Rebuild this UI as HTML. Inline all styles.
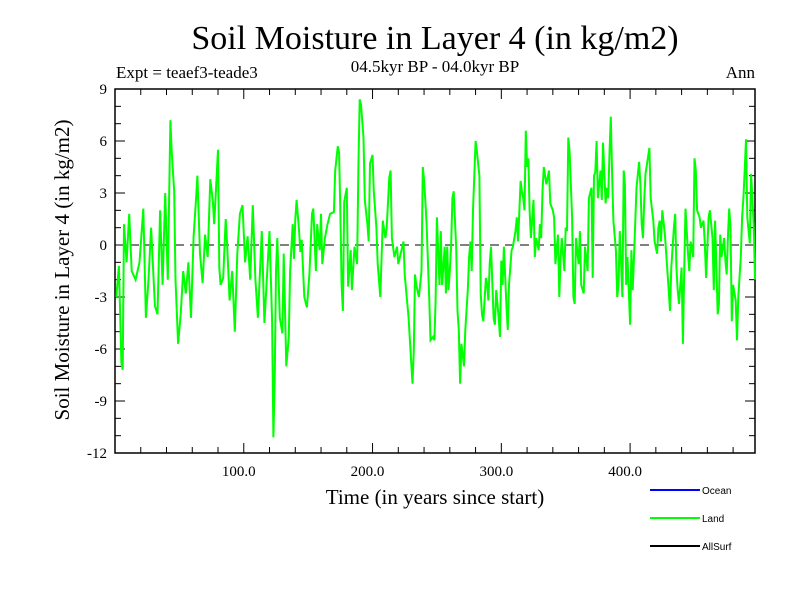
<!DOCTYPE html>
<html><head><meta charset="utf-8"><style>
body{margin:0;background:#fff;}
svg text{font-family:"Liberation Serif",serif;}
</style></head><body>
<svg id="chart" width="800" height="600" xmlns="http://www.w3.org/2000/svg">
<rect width="800" height="600" fill="#fff"/>
<text x="435" y="49" font-size="34" text-anchor="middle">Soil Moisture in Layer 4 (in kg/m2)</text>
<text x="435" y="72" font-size="17" text-anchor="middle">04.5kyr BP - 04.0kyr BP</text>
<text x="116" y="78" font-size="17">Expt = teaef3-teade3</text>
<text x="755" y="78" font-size="17" text-anchor="end">Ann</text>
<text transform="translate(69,270) rotate(-90)" font-size="21" text-anchor="middle">Soil Moisture in Layer 4 (in kg/m2)</text>
<text x="435" y="504" font-size="21" text-anchor="middle">Time (in years since start)</text>
<g id="axes"></g>
<g id="series"></g>
<g>
<line x1="650" y1="490" x2="700" y2="490" stroke="#0000ff" stroke-width="2"/>
<text x="702" y="494" font-size="10" style="font-family:'Liberation Sans',sans-serif">Ocean</text>
<line x1="650" y1="518" x2="700" y2="518" stroke="#00ff00" stroke-width="2"/>
<text x="702" y="522" font-size="10" style="font-family:'Liberation Sans',sans-serif">Land</text>
<line x1="650" y1="546" x2="700" y2="546" stroke="#000" stroke-width="2"/>
<text x="702" y="550" font-size="10" style="font-family:'Liberation Sans',sans-serif">AllSurf</text>
</g>
</svg>
<script>
const years=[1,3,5,6,7,9,11,13,16,19,22,24,26,28,31,33,35,37,39,41,43,44,46,47,49,51,53,55,57,59,61,63,64,66,68,70,72,74,76,77,80,81,82,84,86,87,89,91,93,95,97,99,101,103,105,107,109,111,114,116,118,120,122,123,124,125,126,128,130,131,133,135,136,138,139,140,141,143,144,145,147,149,151,153,154,156,157,159,160,161,163,165,167,170,171,173,174,175,176,177,178,180,181,183,184,186,188,189,190,191,193,194,196,197,198,200,201,203,204,206,208,210,211,213,214,215,217,219,220,224,225,228,229,231,232,233,234,236,238,239,240,241,242,244,245,247,248,249,250,252,253,254,256,257,258,259,260,261,262,263,265,266,267,268,269,271,272,274,275,276,277,278,280,281,283,284,285,286,288,289,290,291,292,294,295,296,298,299,300,301,302,304,305,306,308,309,311,312,313,315,316,317,318,319,320,321,322,323,325,326,327,329,330,331,332,333,335,337,338,340,341,342,344,345,346,347,349,350,351,352,353,355,356,357,358,360,361,362,364,365,367,368,370,371,372,373,374,375,377,378,379,381,382,383,384,385,386,387,389,390,391,392,394,395,396,397,398,400,401,402,403,405,407,408,409,410,411,412,413,415,416,418,419,421,422,423,424,425,427,429,430,431,432,434,435,436,437,438,440,441,442,443,445,446,447,449,450,451,452,454,455,457,458,459,461,462,464,465,466,468,469,470,471,473,474,475,476,477,478,479,480,482,483,484,486,487,488,489,490,491,493,494,496,497];
const values=[-3,-1.2,-6.8,-7.2,1.2,-1,1.8,-1.5,-2,-1,2.1,-4.2,-2,1,-3.5,-4,2,-2.3,3,-2,7.2,5.4,3.1,-2,-5.7,-4,-1.5,-2.8,-1,-4.2,0.5,2.7,4,-0.5,-2.2,0.6,-0.7,3.8,2.5,1.2,5.5,-1.3,-2.3,-1.9,1.5,0.2,-3.2,-1.5,-5,-0.5,1.8,2.3,-1,0.5,-2,2.3,-2,-4.2,0.8,-4.5,-1.8,0.8,-4.4,-11.1,-7.8,-1.5,0.4,-4.2,-5.1,-0.5,-7,-5.3,-1.5,1.2,-0.8,1.5,2.6,0.8,-0.4,0.3,-3,-3.6,-1.7,1.8,2.1,-1.5,1.2,-0.3,1.8,-1.1,0.4,1.2,1.8,1.9,4.3,5.7,5.3,1.8,-2.3,-3.8,2.5,3.3,-2.4,-0.3,-2.6,-0.1,-1.1,4.5,8.4,8.1,6.2,2.6,1.2,0.2,4.7,5.2,3.1,1,-1.1,-3,1.4,0.4,1,3.9,4.3,0.4,-0.7,-0.1,-1.1,0.2,-1.7,-4.2,-5.5,-8,-6.1,-1.7,-2.3,-3,-1.5,4.5,3.7,2.6,1.2,-3,-5.5,-5.3,-5.5,-3.2,1.6,-2.3,0.8,-2.3,-0.1,-2.8,-0.1,-2.6,-1.5,-0.1,2.7,3.1,-0.2,-3.8,-4.9,-8,-5.7,-7,-4.9,-2.6,-0.7,0.2,-1.5,2,6,5.4,4,-2.8,-4,-4.4,-1.9,-2.3,-3.2,-1.1,-0.1,-4.2,-4.6,-2.6,-4.2,-5.3,-0.9,-2.3,-0.1,-3.6,-4.9,-2.3,-0.3,-0.1,0.8,1.6,0.2,3.7,3.1,2.7,2,6.6,4.5,5,2,0.4,2.6,-0.7,0.4,-0.3,1.2,0.4,3.1,4.5,3.5,4.3,2.4,2,1.6,-1.1,0.6,-3,-0.7,0.4,-1.5,1,0.8,6.2,5.4,1.6,-3,-3.4,0.4,-1.1,0.8,-2.3,-2.8,-0.1,-1.5,2.7,3.3,-1.9,4,4.2,6,2.7,4.3,2.6,5.9,2.4,3.3,2.7,5.3,7.4,4.1,1.4,-0.3,-3,-2.3,0.8,-3,4.3,3.5,-2.3,-0.7,-4.6,-0.3,-2.6,-0.7,3.3,4.8,3.5,1.2,0.4,2.7,4.1,4.6,5.6,2.7,1.4,0.2,-0.5,1,1.4,0.2,2,0.6,-1.5,-2.6,-3.8,-1.3,1,1.8,-1.3,-2.6,-3.4,-1.3,-5.7,-1.5,2.1,-0.5,-1.5,0.2,-0.7,5,4.3,2,1.6,1,1.4,0.1,-1.9,1.6,2,0.4,-2.6,1.4,-4,-3.4,0.6,-0.7,0.4,-0.9,-1.7,0.6,2.1,1,-4.4,-2.3,-3.2,-5.5,-3,-0.7,1.6,2.7,4.3,6.1,1.6,0.1,4.1,1.2,-2,3.1,1.2,0.6,5.8,7.8];
const yTicks=[9,6,3,0,-3,-6,-9,-12];
const yTickLabels=["9","6","3","0","-3","-6","-9","-12"];
const xTicks=[100,200,300,400];
const xTickLabels=["100.0","200.0","300.0","400.0"];
const L=115,R=755,T=89,B=453,XMIN=0,XMAX=497,YMIN=-12,YMAX=9;
const sx=v=>L+(v-XMIN)/(XMAX-XMIN)*(R-L);
const sy=v=>B-(v-YMIN)/(YMAX-YMIN)*(B-T);
const NS="http://www.w3.org/2000/svg";
const ax=document.getElementById('axes'),se=document.getElementById('series');
function mk(tag,attrs,parent){const e=document.createElementNS(NS,tag);for(const k in attrs)e.setAttribute(k,attrs[k]);parent.appendChild(e);return e;}
const pts=years.map((y,i)=>sx(y).toFixed(1)+','+sy(values[i]).toFixed(1)).join(' ');
const pl=mk('polyline',{points:pts,fill:'none',stroke:'#00ff00','stroke-width':2,'stroke-linejoin':'miter'},se);


const z=mk('line',{x1:L,x2:R,y1:sy(0),y2:sy(0),stroke:'#000','stroke-width':1,'stroke-dasharray':'9,6'},ax);


const fr=mk('rect',{x:L,y:T,width:R-L,height:B-T,fill:'none',stroke:'#000','stroke-width':1.5},ax);


for(let v=YMIN;v<=YMAX;v++){const len=(v%3===0)?10:6;
 const t1=mk('line',{x1:L,x2:L+len,y1:sy(v),y2:sy(v),stroke:'#000','stroke-width':1},ax);
 
 
 const t2=mk('line',{x1:R,x2:R-len,y1:sy(v),y2:sy(v),stroke:'#000','stroke-width':1},ax);
 
 }
yTicks.forEach((v,i)=>{const t=mk('text',{x:L-8,y:sy(v)+5,'font-size':15,'text-anchor':'end'},ax);t.textContent=yTickLabels[i];
 
 });
for(let v=20;v<XMAX;v+=20){const len=(v%100===0)?10:6;
 const t1=mk('line',{x1:sx(v),x2:sx(v),y1:B,y2:B-len,stroke:'#000','stroke-width':1},ax);
 
 
 const t2=mk('line',{x1:sx(v),x2:sx(v),y1:T,y2:T+len,stroke:'#000','stroke-width':1},ax);
 
 }
xTicks.forEach((v,i)=>{const t=mk('text',{x:sx(v)-5,y:B+23,'font-size':15,'text-anchor':'middle'},ax);t.textContent=xTickLabels[i];
 
 });
</script>
</body></html>
